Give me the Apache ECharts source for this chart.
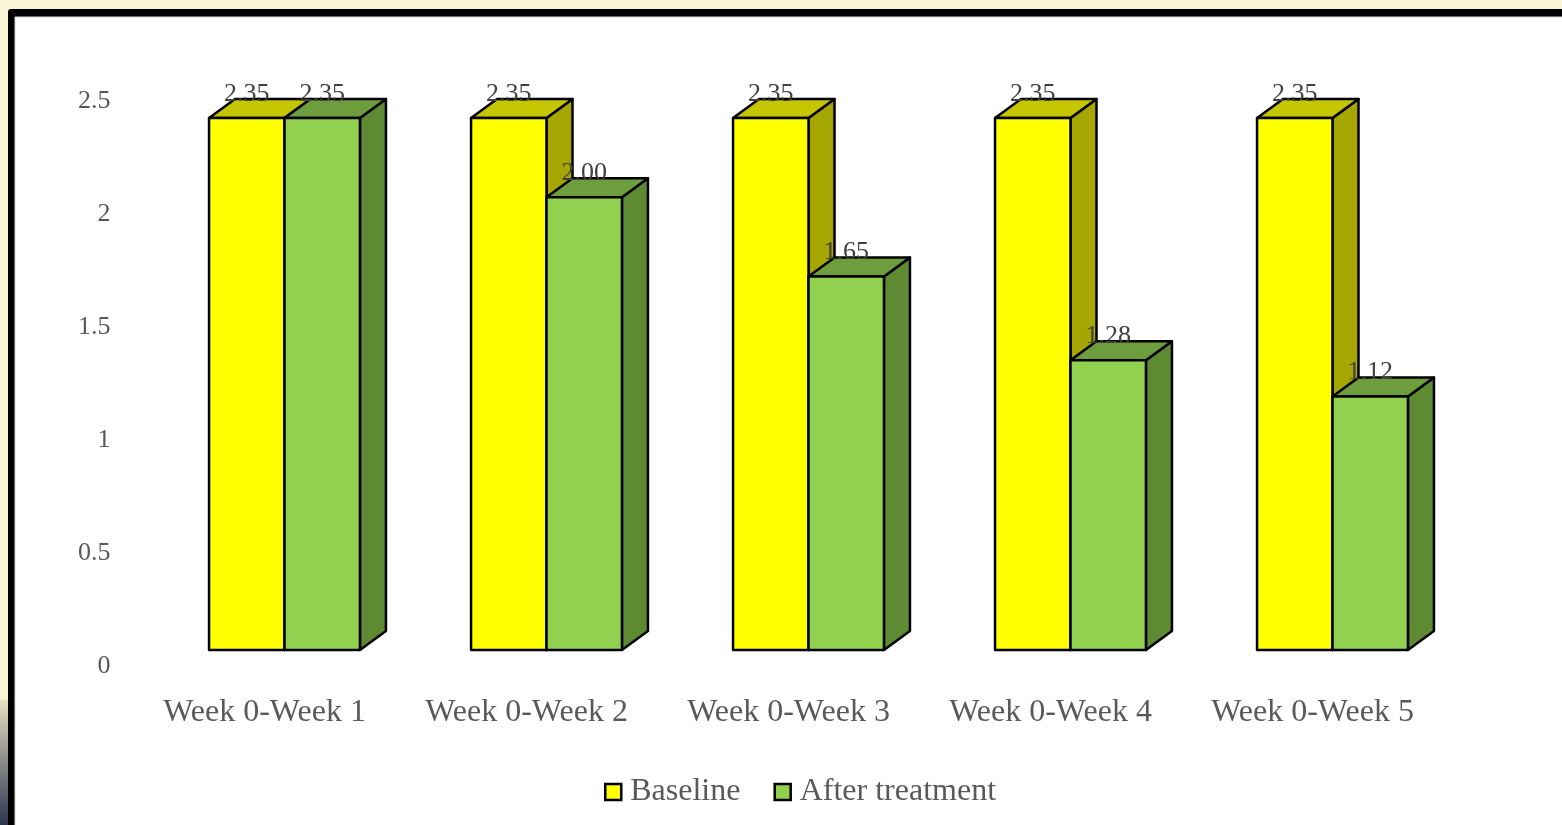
<!DOCTYPE html>
<html>
<head>
<meta charset="utf-8">
<title>Baseline vs After treatment</title>
<script src="https://cdn.jsdelivr.net/npm/echarts@6/dist/echarts.min.js"></script>
<style>
  html, body { margin: 0; padding: 0; background: #fbf3d6; }
  #chart { width: 1562px; height: 825px; }
</style>
</head>
<body>
<div id="chart"></div>
<script>
// Weekly comparison data
const categories = ['Week 0-Week 1', 'Week 0-Week 2', 'Week 0-Week 3', 'Week 0-Week 4', 'Week 0-Week 5'];
const baseline = [2.35, 2.35, 2.35, 2.35, 2.35];
const afterTreatment = [2.35, 2.00, 1.65, 1.28, 1.12];
const seriesNames = ['Baseline', 'After treatment'];
const yTicks = [0, 0.5, 1, 1.5, 2, 2.5];

const FONT = "'Liberation Serif', 'Times New Roman', serif";
const TEXT_GRAY = '#595959';

// Face colours for the pseudo-3D boxes: front, top, side
const palettes = [
  { front: '#ffff00', top: '#c6c600', side: '#a6a600' },
  { front: '#92d050', top: '#6d9d3d', side: '#5e8a34' }
];
const DEPTH_X = 26, DEPTH_Y = 19;
const BAR_RATIO = 0.288;

function boxRenderer(seriesIdx, values) {
  const pal = palettes[seriesIdx];
  return function (params, api) {
    const i = api.value(0);
    const v = api.value(1);
    const base = api.coord([i, 0]);
    const topPt = api.coord([i, v]);
    const band = api.size([1, 0])[0];
    const w = band * BAR_RATIO;
    const x0 = seriesIdx === 0 ? base[0] - w : base[0];
    const x1 = x0 + w;
    const yb = base[1], yt = topPt[1];
    const line = { stroke: '#000', lineWidth: 2.5, lineJoin: 'round' };
    return {
      type: 'group',
      children: [
        { type: 'polygon', shape: { points: [[x1, yb], [x1 + DEPTH_X, yb - DEPTH_Y], [x1 + DEPTH_X, yt - DEPTH_Y], [x1, yt]] },
          style: Object.assign({ fill: pal.side }, line) },
        { type: 'polygon', shape: { points: [[x0, yt], [x0 + DEPTH_X, yt - DEPTH_Y], [x1 + DEPTH_X, yt - DEPTH_Y], [x1, yt]] },
          style: Object.assign({ fill: pal.top }, line) },
        { type: 'rect', shape: { x: x0, y: yt, width: w, height: yb - yt },
          style: Object.assign({ fill: pal.front }, line) },
        { type: 'text', x: (x0 + x1) / 2, y: yt - 24,
          style: { text: values[i].toFixed(2), fill: '#404040', font: '26px ' + FONT, align: 'center', verticalAlign: 'middle' } }
      ]
    };
  };
}

const chart = echarts.init(document.getElementById('chart'), null, { renderer: 'canvas' });

chart.setOption({
  backgroundColor: '#fbf3d6',
  animation: false,
  graphic: [
    // dark photo edge at the lower left
    { type: 'rect', shape: { x: 0, y: 700, width: 8, height: 125 },
      style: { fill: new echarts.graphic.LinearGradient(0, 0, 0, 1, [
        { offset: 0, color: '#e9e0c2' }, { offset: 0.5, color: '#8a8a88' }, { offset: 1, color: '#2a3550' }]) }, z: -10 },
    // black frame with white panel
    { type: 'rect', shape: { x: 8, y: 9, width: 1600, height: 900, r: 3 }, style: { fill: '#000' }, z: -9 },
    { type: 'rect', shape: { x: 15, y: 17, width: 1600, height: 900 }, style: { fill: '#ffffff', stroke: '#d8d8d8', lineWidth: 1 }, z: -8 }
  ],
  legend: {
    left: 599, top: 771,
    itemWidth: 16, itemHeight: 16, itemGap: 33,
    icon: 'rect',
    textStyle: { fontFamily: FONT, fontSize: 32, color: TEXT_GRAY, padding: [0, 0, 0, 4] },
    data: seriesNames.map((n, k) => ({ name: n, itemStyle: { color: palettes[k].front, borderColor: '#000', borderWidth: 2.5 } }))
  },
  grid: [
    { left: 153.5, right: 98.5, top: 84, bottom: 175 },
    { left: 133.5, right: 118.5, top: 101, bottom: 159 }
  ],
  xAxis: [
    { type: 'category', gridIndex: 0, data: categories, show: false },
    { type: 'category', gridIndex: 1, data: categories,
      axisLine: { show: false }, axisTick: { show: false },
      axisLabel: { margin: 31, fontFamily: FONT, fontSize: 32, color: TEXT_GRAY, interval: 0 } }
  ],
  yAxis: [
    { type: 'value', gridIndex: 0, min: 0, max: 2.5, show: false },
    { type: 'value', gridIndex: 1, min: yTicks[0], max: yTicks[yTicks.length - 1], interval: 0.5,
      axisLine: { show: false }, axisTick: { show: false }, splitLine: { show: false },
      axisLabel: { margin: 23, fontFamily: FONT, fontSize: 26, color: TEXT_GRAY } }
  ],
  series: [
    { name: seriesNames[0], type: 'custom', xAxisIndex: 0, yAxisIndex: 0,
      itemStyle: { color: palettes[0].front },
      renderItem: boxRenderer(0, baseline),
      data: baseline.map((v, i) => [i, v]), z: 2 },
    { name: seriesNames[1], type: 'custom', xAxisIndex: 0, yAxisIndex: 0,
      itemStyle: { color: palettes[1].front },
      renderItem: boxRenderer(1, afterTreatment),
      data: afterTreatment.map((v, i) => [i, v]), z: 3 }
  ]
});
</script>
</body>
</html>
